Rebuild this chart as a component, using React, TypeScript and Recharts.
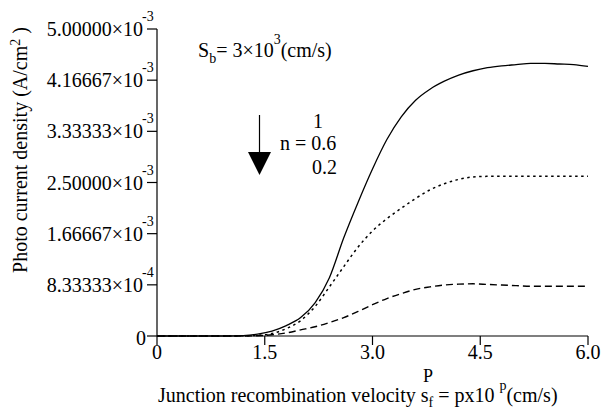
import React from 'react';
import { LineChart, Line, XAxis, YAxis } from 'recharts';

// p values (exponent of junction recombination velocity)
const pValues = [0, 0.5, 1.0, 1.2, 1.4, 1.6, 1.8, 2.0, 2.2, 2.4, 2.6, 2.8, 3.0, 3.2, 3.4, 3.6, 3.8, 4.0, 4.2, 4.4, 4.6, 4.8, 5.0, 5.2, 5.4, 5.6, 5.8, 6.0];

// photocurrent density in mA/cm^2 (converted to A/cm^2 below)
const n1 = [0, 0, 0, 0.005, 0.03, 0.08, 0.17, 0.3, 0.54, 0.95, 1.6, 2.18, 2.72, 3.2, 3.57, 3.84, 4.02, 4.15, 4.25, 4.32, 4.37, 4.4, 4.42, 4.44, 4.44, 4.43, 4.42, 4.39];
const n06 = [0, 0, 0, 0.003, 0.01, 0.04, 0.12, 0.25, 0.48, 0.8, 1.13, 1.45, 1.71, 1.91, 2.08, 2.24, 2.38, 2.48, 2.55, 2.59, 2.6, 2.6, 2.6, 2.6, 2.6, 2.6, 2.6, 2.6];
const n02 = [0, 0, 0, 0, 0.005, 0.02, 0.05, 0.1, 0.15, 0.22, 0.3, 0.4, 0.51, 0.61, 0.69, 0.76, 0.8, 0.83, 0.845, 0.85, 0.84, 0.83, 0.82, 0.81, 0.81, 0.81, 0.81, 0.81];

const xTicks = [0, 1.5, 3.0, 4.5, 6.0];
const xTickLabels = ['0', '1.5', '3.0', '4.5', '6.0'];
const yTicks = [0, 0.000833333, 0.00166667, 0.0025, 0.00333333, 0.00416667, 0.005];

const data = pValues.map((p, i) => ({
  p,
  n1: n1[i] / 1000,
  n06: n06[i] / 1000,
  n02: n02[i] / 1000,
}));

const FONT = 'Liberation Serif';
const FONT_CSS = "#root, #root *, #root text, #root tspan { font-family: 'Liberation Serif', 'Times New Roman', Times, serif !important; }";

function YTick({ y, payload }: any) {
  const v = payload.value;
  if (v === 0) {
    return (
      <text x={146} y={y + 9} textAnchor="end" fontSize={20} fontFamily={FONT} fill="#000">0</text>
    );
  }
  const exp = Math.floor(Math.log10(v) + 1e-9);
  const mant = (v / Math.pow(10, exp)).toFixed(5);
  return (
    <g>
      <text x={143} y={y + 7} textAnchor="end" fontSize={20} fontFamily={FONT} fill="#000">
        {mant}×10
      </text>
      <text x={142} y={y - 8} textAnchor="start" fontSize={14} fontFamily={FONT} fill="#000">
        {exp}
      </text>
    </g>
  );
}

function XTick({ x, y, payload }: any) {
  const idx = xTicks.indexOf(payload.value);
  return (
    <text x={x} y={y + 14} textAnchor="middle" fontSize={20} fontFamily={FONT} fill="#000">
      {xTickLabels[idx] ?? payload.value}
    </text>
  );
}

// HTML text placed by its baseline (line-height 20px -> baseline ~17px below top)
function Note({ x, y, size = 20, children, style }: any) {
  return (
    <div style={{ position: 'absolute', left: x, top: y - 17, fontFamily: FONT, fontSize: size, lineHeight: '20px', whiteSpace: 'nowrap', color: '#000', ...style }}>
      {children}
    </div>
  );
}

const sup = (top: number): React.CSSProperties => ({ fontSize: 14, position: 'relative', top });

export default function App() {
  return (
    <div style={{ position: 'absolute', left: 0, top: 0, width: 611, height: 410, background: '#fff', fontFamily: FONT }}>
      <style>{FONT_CSS}</style>
      <LineChart width={611} height={410} data={data} margin={{ top: 29, right: 23, left: 0, bottom: 0 }}>
        <XAxis
          dataKey="p"
          type="number"
          domain={[0, 6]}
          ticks={xTicks}
          height={74}
          tickSize={9}
          tickMargin={0}
          tick={<XTick />}
          stroke="#000"
          strokeWidth={1.2}
        />
        <YAxis
          type="number"
          domain={[0, 0.005]}
          ticks={yTicks}
          width={157}
          tickSize={10}
          tick={<YTick />}
          stroke="#000"
          strokeWidth={1.2}
        />
        <Line type="monotone" dataKey="n02" stroke="#000" strokeWidth={1.4} strokeDasharray="7 4" dot={false} isAnimationActive={false} />
        <Line type="monotone" dataKey="n06" stroke="#000" strokeWidth={1.5} strokeDasharray="2.5 3.5" dot={false} isAnimationActive={false} />
        <Line type="monotone" dataKey="n1" stroke="#000" strokeWidth={1.3} dot={false} isAnimationActive={false} />
      </LineChart>
      <svg width={611} height={410} style={{ position: 'absolute', left: 0, top: 0, pointerEvents: 'none' }}>
        <line x1={259.5} y1={115} x2={259.5} y2={153} stroke="#000" strokeWidth={1.2} />
        <polygon points="248,152 271,152 259.5,175" fill="#000" />
      </svg>
      <Note
        x={0}
        y={0}
        style={{ width: 300, textAlign: 'center', transformOrigin: '0 0', transform: 'translate(27px, 167px) rotate(-90deg) translate(-150px, -17px)' }}
      >
        Photo current density (A/cm<span style={sup(-7)}>2</span> )
      </Note>
      <Note x={423} y={383} size={18}>P</Note>
      <Note x={158} y={402}>
        Junction recombination velocity s<span style={sup(5)}>f</span> = px10 <span style={sup(-12)}>p</span>(cm/s)
      </Note>
      <Note x={198} y={57}>
        S<span style={sup(6)}>b</span>= 3×10<span style={sup(-13)}>3</span>(cm/s)
      </Note>
      <Note x={313} y={128}>1</Note>
      <Note x={280} y={150}>n = 0.6</Note>
      <Note x={312} y={174}>0.2</Note>
    </div>
  );
}
